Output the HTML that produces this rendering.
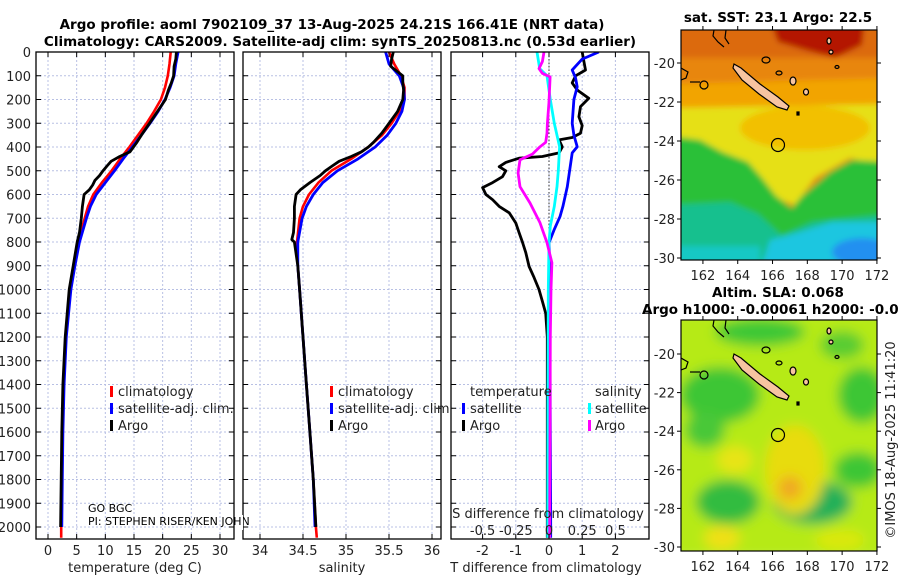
<!DOCTYPE html>
<html><head><meta charset="utf-8">
<style>
html,body{margin:0;padding:0;background:#fff;}
svg{display:block;font-family:"DejaVu Sans","Liberation Sans",sans-serif;}
.tk{font-size:13px;fill:#222;}
.ttl{font-size:13.5px;font-weight:bold;fill:#000;}
</style></head>
<body>
<svg id="fig" width="900" height="580" viewBox="0 0 900 580" xmlns="http://www.w3.org/2000/svg">
<defs>
<clipPath id="c1"><rect x="36" y="52" width="198" height="487"/></clipPath>
<clipPath id="c2"><rect x="243" y="52" width="198" height="487"/></clipPath>
<clipPath id="c3"><rect x="451" y="52" width="198" height="487"/></clipPath>
<clipPath id="m1"><rect x="681" y="30" width="196" height="230"/></clipPath>
<clipPath id="m2"><rect x="681" y="320" width="196" height="231"/></clipPath>
<filter id="bl" x="-10%" y="-10%" width="120%" height="120%"><feGaussianBlur stdDeviation="3"/></filter>
<filter id="bl2" x="-20%" y="-20%" width="140%" height="140%"><feGaussianBlur stdDeviation="6"/></filter>
</defs>

<text class="ttl" x="332" y="29" text-anchor="middle">Argo profile: aoml 7902109_37 13-Aug-2025 24.21S 166.41E (NRT data)</text>
<text class="ttl" x="340" y="46" text-anchor="middle">Climatology: CARS2009. Satellite-adj clim: synTS_20250813.nc (0.53d earlier)</text>

<g id="grids"></g>
<g id="curves"></g>
<g id="frames"></g>
<g id="labels"></g>

<!-- legends -->
<g>
<rect x="110" y="386" width="3" height="11" fill="#f00"/><text class="tk" x="118" y="396">climatology</text>
<rect x="110" y="403" width="3" height="11" fill="#00f"/><text class="tk" x="118" y="413">satellite-adj. clim.</text>
<rect x="110" y="420" width="3" height="11" fill="#000"/><text class="tk" x="118" y="430">Argo</text>
</g>
<text x="88" y="512" font-size="11" fill="#000">GO BGC</text>
<text x="88" y="525" font-size="11" fill="#000">PI: STEPHEN RISER/KEN JOHN</text>
<rect x="242" y="515" width="1" height="15" fill="#fff"/>
<g>
<rect x="330" y="386" width="3" height="11" fill="#f00"/><text class="tk" x="338" y="396">climatology</text>
<rect x="330" y="403" width="3" height="11" fill="#00f"/><text class="tk" x="338" y="413">satellite-adj. clim</text>
<rect x="330" y="420" width="3" height="11" fill="#000"/><text class="tk" x="338" y="430">Argo</text>
</g>
<g>
<text class="tk" x="470" y="396">temperature</text>
<rect x="462" y="403" width="3" height="11" fill="#00f"/><text class="tk" x="470" y="413">satellite</text>
<rect x="462" y="420" width="3" height="11" fill="#000"/><text class="tk" x="470" y="430">Argo</text>
<text class="tk" x="595" y="396">salinity</text>
<rect x="588" y="403" width="3" height="11" fill="#0ff"/><text class="tk" x="595" y="413">satellite</text>
<rect x="588" y="420" width="3" height="11" fill="#f0f"/><text class="tk" x="595" y="430">Argo</text>
</g>
<text class="tk" x="548" y="518" text-anchor="middle">S difference from climatology</text>

<!-- MAP 1: SST -->
<g clip-path="url(#m1)">
<g filter="url(#bl)">
<rect x="670" y="20" width="220" height="250" fill="#e8860e"/>
<rect x="670" y="20" width="220" height="38" fill="#dc6a0c"/>
<polygon points="770,20 865,20 862,45 835,58 805,50 778,42" fill="#b41600"/>
<polygon points="670,84 890,78 890,112 670,112" fill="#f2a404"/>
<polygon points="670,108 890,104 890,168 850,158 815,178 795,205 775,198 755,172 725,158 670,140" fill="#e6e012"/>
<ellipse cx="805" cy="128" rx="65" ry="22" fill="#f2c000"/>
<polygon points="670,136 700,140 722,152 748,162 762,178 776,196 792,208 802,196 830,172 852,160 890,162 890,270 670,270" fill="#2cc038"/>
<polygon points="670,205 730,202 758,214 782,236 812,222 890,214 890,270 670,270" fill="#12c08e"/>
<polygon points="770,240 800,232 832,222 890,222 890,270 760,270" fill="#1ec6e0"/>
<ellipse cx="862" cy="252" rx="30" ry="14" fill="#2290f0"/>
<rect x="670" y="246" width="90" height="20" fill="#14c8c4"/>
</g>
</g>
<g id="coast1" clip-path="url(#m1)" stroke="#000" stroke-width="1.2">
<polygon points="734,64 741,68 760,84 778,97 789,106 787,110 777,107 759,94 742,80 733,68" fill="#f7c4a0"/>
<polyline points="714,30 713,36 718,42 724,47" fill="none"/>
<polyline points="726,30 725,38 729,44" fill="none"/>
<ellipse cx="766" cy="60" rx="4" ry="3" fill="none"/>
<ellipse cx="779" cy="73" rx="3" ry="2" fill="none"/>
<ellipse cx="793" cy="81" rx="3" ry="4" fill="#f7c4a0"/>
<ellipse cx="806" cy="92" rx="2.5" ry="3" fill="#f7c4a0"/>
<ellipse cx="829" cy="41" rx="2" ry="3" fill="#f7c4a0"/>
<ellipse cx="831" cy="52" rx="2" ry="2" fill="#f7c4a0"/>
<ellipse cx="837" cy="67" rx="2" ry="1.5" fill="none"/>
<rect x="797" y="112" width="2" height="3" fill="#000"/>
<polyline points="681,68 688,72 686,78 681,80" fill="none"/>
<ellipse cx="704" cy="85" rx="4" ry="4" fill="none"/>
<polyline points="690,82 700,82" fill="none"/>
</g>
<circle cx="778" cy="145" r="6.5" fill="none" stroke="#000" stroke-width="1.2"/>
<rect x="681" y="30" width="196" height="230" fill="none" stroke="#000" stroke-width="1.2"/>
<text class="ttl" x="778" y="22" text-anchor="middle">sat. SST: 23.1 Argo: 22.5</text>

<!-- MAP 2: SLA -->
<g clip-path="url(#m2)">
<g filter="url(#bl2)">
<rect x="670" y="310" width="220" height="250" fill="#b6ea12"/>
<ellipse cx="760" cy="332" rx="45" ry="14" fill="#3cc834"/>
<ellipse cx="720" cy="395" rx="40" ry="28" fill="#3cc634"/>
<ellipse cx="705" cy="430" rx="20" ry="18" fill="#48c838"/>
<ellipse cx="862" cy="395" rx="24" ry="28" fill="#3cc634"/>
<ellipse cx="842" cy="345" rx="22" ry="14" fill="#58cc30"/>
<ellipse cx="812" cy="502" rx="40" ry="22" fill="#22b058"/>
<ellipse cx="728" cy="502" rx="32" ry="22" fill="#30bc40"/>
<ellipse cx="858" cy="470" rx="24" ry="18" fill="#3cc634"/>
<ellipse cx="795" cy="470" rx="30" ry="45" fill="#e8dc10"/>
<ellipse cx="790" cy="488" rx="12" ry="12" fill="#f0a820"/>
<ellipse cx="735" cy="460" rx="18" ry="14" fill="#e8e414"/>
<ellipse cx="722" cy="538" rx="18" ry="12" fill="#f0e018"/>
<ellipse cx="840" cy="540" rx="25" ry="10" fill="#dce810"/>
</g>
</g>
<use href="#coast1" transform="translate(0,290)"/>
<circle cx="778" cy="435" r="6.5" fill="none" stroke="#000" stroke-width="1.2"/>
<rect x="681" y="320" width="196" height="231" fill="none" stroke="#000" stroke-width="1.2"/>
<text class="ttl" x="778" y="297" text-anchor="middle">Altim. SLA: 0.068</text>
<text class="ttl" x="642" y="314">Argo h1000: -0.00061 h2000: -0.01</text>

<g id="maplabels"></g>
<text class="tk" transform="translate(895,440) rotate(-90)" text-anchor="middle">©IMOS 18-Aug-2025 11:41:20</text>

<script>
// ---- data ----
const depthTicks = [0,100,200,300,400,500,600,700,800,900,1000,1100,1200,1300,1400,1500,1600,1700,1800,1900,2000];
const tempTicks = [0,5,10,15,20,25,30];
const salTicks = [34,34.5,35,35.5,36];
const salTickLabels = ["34","34.5","35","35.5","36"];
const tdiffTicks = [-2,-1,0,1,2];
const sdiffTicks = [-0.5,-0.25,0,0.25,0.5];
const sdiffTickLabels = ["-0.5","-0.25","0","0.25","0.5"];

const climDepth = [0,50,100,150,200,250,300,350,400,450,500,550,600,650,700,800,900,1000,1200,1400,1600,1800,2000,2045];
const tempClim = [21.4,21.2,20.9,20.4,19.7,18.5,17.2,15.7,14.2,12.6,11.1,9.4,7.9,7.0,6.4,5.3,4.6,3.9,3.1,2.7,2.5,2.4,2.3,2.3];
const tempSat = [22.7,22.3,22.0,21.3,20.4,19.2,17.8,16.3,14.7,13.1,11.6,10.0,8.4,7.4,6.7,5.5,4.7,4.0,3.2,2.8,2.6,2.5,2.4,2.4];
const salClim = [35.50,35.56,35.64,35.68,35.68,35.62,35.53,35.42,35.26,35.06,34.83,34.68,34.57,34.50,34.46,34.43,34.44,34.46,34.50,34.54,34.58,34.62,34.65,34.66];
const salSat = [35.46,35.50,35.62,35.67,35.68,35.65,35.58,35.48,35.34,35.14,34.90,34.73,34.62,34.54,34.49,34.44,34.44,34.46,34.50,34.54,34.58,34.62,34.64,34.64];

const argoTDepth = [0,30,60,100,130,160,200,250,300,350,380,420,440,460,480,500,520,540,560,580,600,650,700,760,800,900,1000,1200,1400,1600,1800,2000];
const argoTemp = [22.4,22.3,22.0,21.9,21.5,21.0,20.5,19.1,17.7,16.3,15.5,14.3,12.5,11.0,10.3,9.6,9.0,8.2,7.8,7.2,6.3,6.0,5.8,5.5,5.1,4.4,3.7,3.0,2.6,2.4,2.3,2.2];
const argoSDepth = [0,30,60,100,130,160,200,250,300,340,380,400,420,440,460,480,500,520,550,580,600,650,700,760,790,800,900,1000,1200,1400,1600,1800,2000];
const argoSal = [35.55,35.53,35.52,35.66,35.66,35.67,35.66,35.60,35.50,35.42,35.32,35.26,35.18,35.06,34.92,34.84,34.76,34.70,34.58,34.47,34.42,34.40,34.40,34.39,34.37,34.40,34.44,34.46,34.50,34.54,34.58,34.62,34.65];

const argoTdDepth = [0,40,76,100,130,160,195,230,273,310,342,360,370,400,425,440,447,465,483,500,525,550,571,600,622,650,677,720,761,800,845,903,950,1000,1050,1100,1200,1500,2000,2045];
const argoTdiff = [1.0,1.05,1.1,0.8,0.7,0.85,1.2,0.95,0.9,1.0,0.95,0.7,0.3,0.4,0.3,-0.2,-0.9,-1.3,-1.5,-1.3,-1.4,-1.7,-2.0,-1.9,-1.7,-1.5,-1.2,-1.0,-0.9,-0.8,-0.7,-0.6,-0.45,-0.3,-0.2,-0.1,-0.05,-0.05,-0.05,-0.05];
const satTdDepth = [0,30,76,110,147,200,300,350,399,425,500,567,650,693,750,803,900,1200,1600,2000,2045];
const satTdiff = [1.5,1.0,0.7,0.8,0.85,0.75,0.7,0.75,0.85,0.7,0.62,0.55,0.42,0.33,0.15,0.0,0.02,0.03,0.04,0.05,0.05];
const satSdDepth = [0,70,100,200,300,399,500,567,650,733,803,1000,1500,2000,2045];
const satSdiff = [-0.09,-0.07,-0.015,0.01,0.04,0.08,0.07,0.06,0.04,0.01,0,-0.005,-0.008,-0.01,-0.01];
const argoSdDepth = [0,40,70,90,105,210,300,342,380,399,430,454,510,567,636,719,803,887,1000,1200,1500,2000,2045];
const argoSdiff = [-0.038,-0.05,-0.075,-0.05,0.008,0,-0.012,-0.015,-0.025,-0.068,-0.125,-0.218,-0.233,-0.218,-0.143,-0.068,-0.015,0.022,0.015,0.01,0.008,0.005,0.005];

const mapLatTicks = [-20,-22,-24,-26,-28,-30];
const mapLonTicks = [162,164,166,168,170,172];

// ---- axes ----
const NS = "http://www.w3.org/2000/svg";
const yD = d => 52 + d * 0.2375;
const xT = v => 48 + v * 5.733;
const xS = v => 260 + (v - 34) * 86;
const xTd = v => 549 + v * 33.2;
const xSd = v => 549 + v * 4 * 33.2;
const panels = [{x0:36,name:"temperature"},{x0:243,name:"salinity"},{x0:451,name:"difference"}];
const W = 198, Y0 = 52, Y1 = 539;

function mk(tag, attrs, parent){ const e=document.createElementNS(NS,tag); for(const k in attrs) e.setAttribute(k,attrs[k]); parent.appendChild(e); return e; }
const grids=document.getElementById('grids'), curves=document.getElementById('curves'), frames=document.getElementById('frames'), labels=document.getElementById('labels'), maplabels=document.getElementById('maplabels');

const xfuncs=[xT,xS,xTd], xticks=[tempTicks,salTicks,tdiffTicks];
panels.forEach((p,i)=>{
  depthTicks.forEach(d=>{
    const l=mk('line',{x1:p.x0,x2:p.x0+W,y1:yD(d),y2:yD(d),stroke:'#b8c0e4','stroke-width':1,'stroke-dasharray':'2,2'},grids);
    
    
    mk('line',{x1:p.x0,x2:p.x0+5,y1:yD(d),y2:yD(d),stroke:'#000'},frames);
    mk('line',{x1:p.x0+W-5,x2:p.x0+W,y1:yD(d),y2:yD(d),stroke:'#000'},frames);
  });
  xticks[i].forEach(v=>{
    const x=xfuncs[i](v);
    const l=mk('line',{x1:x,x2:x,y1:Y0,y2:Y1,stroke:'#b8c0e4','stroke-width':1,'stroke-dasharray':'2,2'},grids);
    
    
    mk('line',{x1:x,x2:x,y1:Y1-5,y2:Y1,stroke:'#000'},frames);
    mk('line',{x1:x,x2:x,y1:Y0,y2:Y0+5,stroke:'#000'},frames);
  });
  const f=mk('rect',{x:p.x0,y:Y0,width:W,height:Y1-Y0,fill:'none',stroke:'#000','stroke-width':1.3},frames);
  
  
});
// dotted zero line
const zl=mk('line',{x1:xTd(0),x2:xTd(0),y1:Y0,y2:yD(800),stroke:'#333','stroke-dasharray':'1.5,2','stroke-width':1},grids);



function line(xs, ds, fx, color, w, clip, name){
  const pts=xs.map((v,i)=>fx(v).toFixed(1)+','+yD(ds[i]).toFixed(1)).join(' ');
  const pl=mk('polyline',{points:pts,fill:'none',stroke:color,'stroke-width':w,'stroke-linejoin':'round','clip-path':'url(#'+clip+')'},curves);
  
  
}
line(tempClim,climDepth,xT,'#f00',2.6,'c1','temperature-climatology-line');
line(tempSat,climDepth.slice(0,23),xT,'#00f',2.8,'c1','temperature-satellite-line');
line(argoTemp,argoTDepth,xT,'#000',2.8,'c1','temperature-argo-line');
line(salClim,climDepth,xS,'#f00',2.6,'c2','salinity-climatology-line');
line(salSat,climDepth.slice(0,23),xS,'#00f',2.8,'c2','salinity-satellite-line');
line(argoSal,argoSDepth,xS,'#000',2.8,'c2','salinity-argo-line');
line(argoTdiff,argoTdDepth,xTd,'#000',2.8,'c3','argo-temperature-diff-line');
line(satTdiff,satTdDepth,xTd,'#00f',2.8,'c3','satellite-temperature-diff-line');
line(satSdiff,satSdDepth,xSd,'#0ff',2.8,'c3','satellite-salinity-diff-line');
line(argoSdiff,argoSdDepth,xSd,'#f0f',2.8,'c3','argo-salinity-diff-line');

function txt(s,x,y,anchor,name,parent){
  const t=mk('text',{x:x,y:y,'text-anchor':anchor,class:'tk'},parent||labels);
  t.textContent=s;
  
  
  return t;
}
depthTicks.forEach(d=>txt(String(d),31,yD(d)+5,'end','depth-tick-label'));
tempTicks.forEach(v=>txt(String(v),xT(v),555,'middle','temperature-tick-label'));
salTicks.forEach((v,i)=>txt(salTickLabels[i],xS(v),555,'middle','salinity-tick-label'));
tdiffTicks.forEach(v=>txt(String(v),xTd(v),555,'middle','t-diff-tick-label'));
sdiffTicks.forEach((v,i)=>txt(sdiffTickLabels[i],xSd(v),535,'middle','s-diff-tick-label'));
txt('temperature (deg C)',135,572,'middle','temperature-axis-title');
txt('salinity',342,572,'middle','salinity-axis-title');
txt('T difference from climatology',546,572,'middle','t-diff-axis-title');

// map axes
const mx = lon => 681 + (lon - 160.74) * 17.4;
const my1 = lat => 63 + (-20 - lat) * 19.5;
const my2 = lat => 354 + (-20 - lat) * 19.3;
mapLatTicks.forEach(lat=>{
  txt(String(lat),675,my1(lat)+5,'end','sst-map-lat-label',maplabels);
  txt(String(lat),675,my2(lat)+5,'end','sla-map-lat-label',maplabels);
  mk('line',{x1:877,x2:881,y1:my1(lat),y2:my1(lat),stroke:'#000'},maplabels);
  mk('line',{x1:877,x2:881,y1:my2(lat),y2:my2(lat),stroke:'#000'},maplabels);
  mk('line',{x1:677,x2:681,y1:my1(lat),y2:my1(lat),stroke:'#000'},maplabels);
  mk('line',{x1:677,x2:681,y1:my2(lat),y2:my2(lat),stroke:'#000'},maplabels);
});
mapLonTicks.forEach(lon=>{
  txt(String(lon),mx(lon),280,'middle','sst-map-lon-label',maplabels);
  txt(String(lon),mx(lon),571,'middle','sla-map-lon-label',maplabels);
  mk('line',{x1:mx(lon),x2:mx(lon),y1:260,y2:264,stroke:'#000'},maplabels);
  mk('line',{x1:mx(lon),x2:mx(lon),y1:551,y2:555,stroke:'#000'},maplabels);
  mk('line',{x1:mx(lon),x2:mx(lon),y1:26,y2:30,stroke:'#000'},maplabels);
  mk('line',{x1:mx(lon),x2:mx(lon),y1:316,y2:320,stroke:'#000'},maplabels);
});
</script>
</svg>
</body></html>
